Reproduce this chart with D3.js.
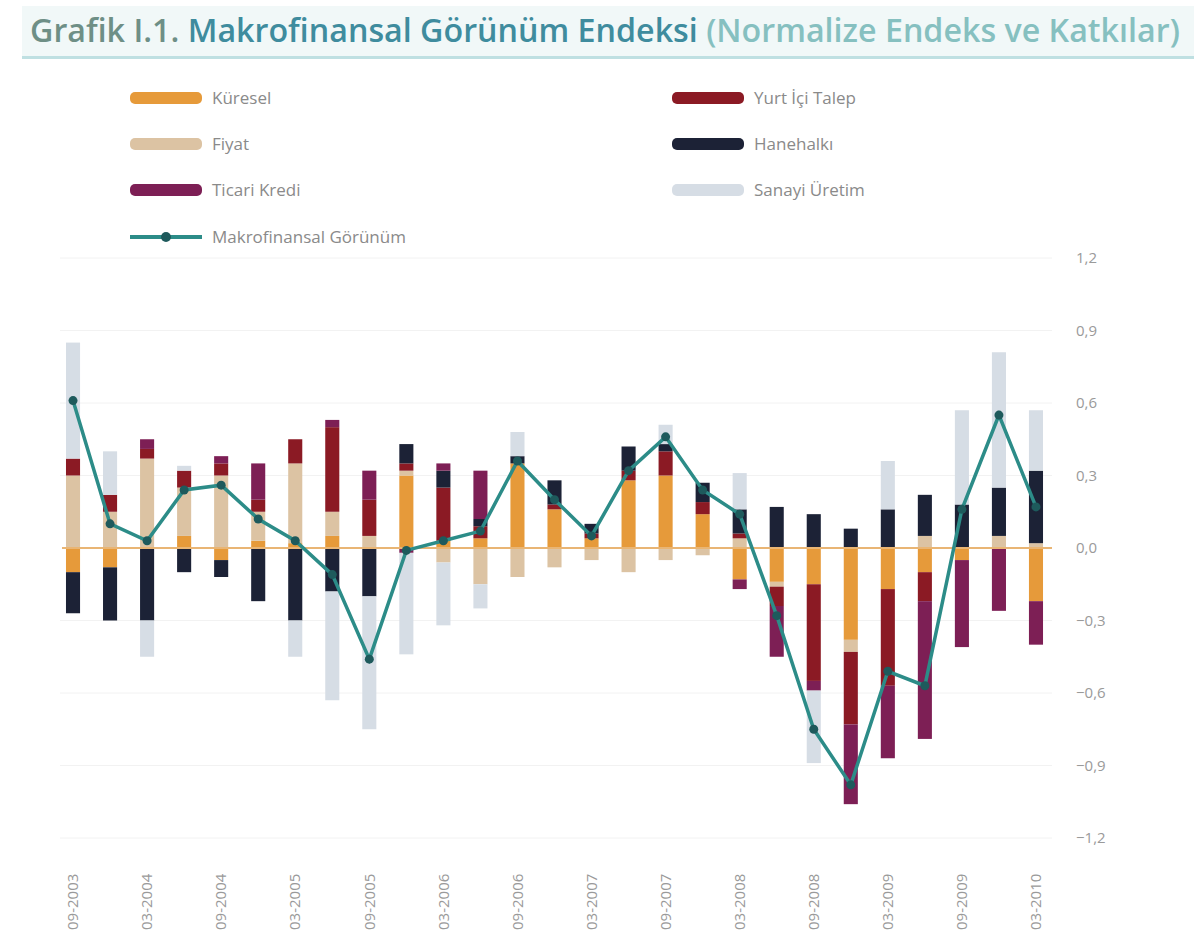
<!DOCTYPE html>
<html><head><meta charset="utf-8">
<script src="https://cdn.jsdelivr.net/npm/d3@7/dist/d3.min.js"></script>
<style>
body{margin:0;background:#fff;}
svg{display:block;font-family:"Open Sans","Noto Sans",sans-serif;}
</style></head>
<body><svg id="c" width="1200" height="941"></svg>
<script>
// ---- data ----
const categories = ["09-2003","12-2003","03-2004","06-2004","09-2004","12-2004","03-2005","06-2005","09-2005","12-2005","03-2006","06-2006","09-2006","12-2006","03-2007","06-2007","09-2007","12-2007","03-2008","06-2008","09-2008","12-2008","03-2009","06-2009","09-2009","12-2009","03-2010"];
const tickLabels = ["09-2003","03-2004","09-2004","03-2005","09-2005","03-2006","09-2006","03-2007","09-2007","03-2008","09-2008","03-2009","09-2009","03-2010"];
const seriesNames = ["Küresel","Fiyat","Yurt İçi Talep","Hanehalkı","Ticari Kredi","Sanayi Üretim"];
const kuresel   = [-0.10,-0.08,0.00,0.05,-0.05,0.03,0.02,0.05,0.00,0.30,0.03,0.04,0.35,0.16,0.04,0.28,0.30,0.14,-0.13,-0.14,-0.15,-0.38,-0.17,-0.10,-0.05,0.00,-0.22];
const fiyat     = [0.30,0.15,0.37,0.20,0.30,0.12,0.33,0.10,0.05,0.02,-0.06,-0.15,-0.12,-0.08,-0.05,-0.10,-0.05,-0.03,0.04,-0.02,0.00,-0.05,0.00,0.05,0.00,0.05,0.02];
const yurtici   = [0.07,0.07,0.04,0.07,0.05,0.05,0.10,0.35,0.15,0.03,0.22,0.05,0.00,0.02,0.02,0.04,0.10,0.05,0.02,-0.08,-0.40,-0.30,-0.40,-0.12,0.00,0.00,0.00];
const hanehalki = [-0.17,-0.22,-0.30,-0.10,-0.07,-0.22,-0.30,-0.18,-0.20,0.08,0.07,0.03,0.03,0.10,0.04,0.10,0.03,0.08,0.10,0.17,0.14,0.08,0.16,0.17,0.18,0.20,0.30];
const kredi     = [0.00,0.00,0.04,0.00,0.03,0.15,0.00,0.03,0.12,-0.02,0.03,0.20,0.00,0.00,0.00,0.00,0.00,0.00,-0.04,-0.21,-0.04,-0.33,-0.30,-0.57,-0.36,-0.26,-0.18];
const sanayi    = [0.48,0.18,-0.15,0.02,0.00,0.00,-0.15,-0.45,-0.55,-0.42,-0.26,-0.10,0.10,0.00,0.00,0.00,0.08,0.00,0.15,0.00,-0.30,0.00,0.20,0.00,0.39,0.56,0.25];
const endeks    = [0.61,0.10,0.03,0.24,0.26,0.12,0.03,-0.11,-0.46,-0.01,0.03,0.07,0.36,0.20,0.05,0.32,0.46,0.24,0.14,-0.28,-0.75,-0.98,-0.51,-0.57,0.16,0.55,0.17];
const yTicks = [1.2,0.9,0.6,0.3,0,-0.3,-0.6,-0.9,-1.2];
const lineName = "Makrofinansal Görünüm";

const colors = ["#E69A3A","#DCC3A3","#8B1A24","#1C2236","#7D1F55","#D6DDE5"];
const lineColor = "#2C8C88", markerColor = "#1E5A5C";

const svg = d3.select("#c");

// ---- title ----
const tg = svg.append("g");
tg.append("rect").attr("x",22).attr("y",6).attr("width",1172).attr("height",50).attr("fill","#f1f8f8");
tg.append("rect").attr("x",22).attr("y",56).attr("width",1172).attr("height",3).attr("fill","#bfe0e2");
const title = tg.append("text").attr("x",30).attr("y",42).attr("font-size",27).attr("font-weight",600);
title.append("tspan").attr("fill","#6E8F86").text("Grafik I.1. ");
title.append("tspan").attr("fill","#3F8C9E").text("Makrofinansal Görünüm Endeksi ");
title.append("tspan").attr("fill","#86C0C0").text("(Normalize Endeks ve Katkılar)");
const tw = title.node().getComputedTextLength();
title.attr("font-size", 27 * 1150 / tw);

// ---- legend ----
const leg = svg.append("g").attr("font-size",17).attr("fill","#8a8a8a");
const legItems = [
  {name:seriesNames[0], c:colors[0], x:130, y:98},
  {name:seriesNames[1], c:colors[1], x:130, y:144},
  {name:seriesNames[4], c:colors[4], x:130, y:190},
  {name:seriesNames[2], c:colors[2], x:672, y:98},
  {name:seriesNames[3], c:colors[3], x:672, y:144},
  {name:seriesNames[5], c:colors[5], x:672, y:190}
];
legItems.forEach(d=>{
  leg.append("rect").attr("x",d.x).attr("y",d.y-6).attr("width",72).attr("height",12).attr("rx",5).attr("fill",d.c);
  leg.append("text").attr("x",d.x+82).attr("y",d.y+6).text(d.name);
});
leg.append("line").attr("x1",130).attr("x2",202).attr("y1",237).attr("y2",237).attr("stroke",lineColor).attr("stroke-width",4);
leg.append("circle").attr("cx",166).attr("cy",237).attr("r",5).attr("fill",markerColor);
leg.append("text").attr("x",212).attr("y",243).text(lineName);

// ---- scales ----
const x = d3.scaleBand().domain(categories).range([54.5,1054.5]).paddingInner(0.62).paddingOuter(0.31);
const y = d3.scaleLinear().domain([-1.2,1.2]).range([838,258]);

// grid
svg.append("g").selectAll("line").data(yTicks.filter(v=>v!==0)).join("line")
  .attr("x1",60).attr("x2",1052).attr("y1",d=>y(d)).attr("y2",d=>y(d))
  .attr("stroke","#f2f2f2").attr("stroke-width",1);

// ---- stacked bars ----
const table = categories.map((c,i)=>({cat:c, s0:kuresel[i], s1:fiyat[i], s2:yurtici[i], s3:hanehalki[i], s4:kredi[i], s5:sanayi[i]}));
const keys = ["s0","s1","s2","s3","s4","s5"];
const stack = d3.stack().keys(keys).offset(d3.stackOffsetDiverging)(table);
svg.append("g").selectAll("g").data(stack).join("g").attr("fill",(d,i)=>colors[i])
  .selectAll("rect").data(d=>d).join("rect")
  .attr("x",d=>x(d.data.cat)).attr("width",x.bandwidth())
  .attr("y",d=>y(Math.max(d[0],d[1]))).attr("height",d=>Math.abs(y(d[0])-y(d[1])));

// zero line
svg.append("line").attr("x1",62).attr("x2",1052).attr("y1",y(0)).attr("y2",y(0)).attr("stroke","#E9B574").attr("stroke-width",2);

// ---- index line ----
const cx = c => x(c)+x.bandwidth()/2;
svg.append("path").datum(endeks.map((v,i)=>[categories[i],v]))
  .attr("fill","none").attr("stroke",lineColor).attr("stroke-width",3.5)
  .attr("d",d3.line().x(d=>cx(d[0])).y(d=>y(d[1])));
svg.append("g").selectAll("circle").data(endeks).join("circle")
  .attr("cx",(d,i)=>cx(categories[i])).attr("cy",d=>y(d)).attr("r",4.5).attr("fill",markerColor);

// ---- axes ----
const yAxis = d3.axisRight(y).tickValues(yTicks).tickSize(0).tickPadding(0)
  .tickFormat(d=>d3.format(".1f")(d).replace(".",","));
const ya = svg.append("g").attr("transform","translate(1076,0)").call(yAxis);
ya.select(".domain").remove();
ya.selectAll("text").attr("font-size",15).attr("fill","#9a9a9a").attr("font-family","Open Sans, sans-serif");

const xAxis = d3.axisBottom(x).tickValues(tickLabels).tickSize(0).tickPadding(0);
const xa = svg.append("g").attr("transform","translate(0,850)").call(xAxis);
xa.select(".domain").remove();
xa.selectAll("text").attr("font-size",15).attr("fill","#9a9a9a").attr("font-family","Open Sans, sans-serif")
  .attr("text-anchor","start").attr("dy","0.35em").attr("transform","rotate(-90)").attr("x",-80).attr("y",0);
</script>
</body></html>
